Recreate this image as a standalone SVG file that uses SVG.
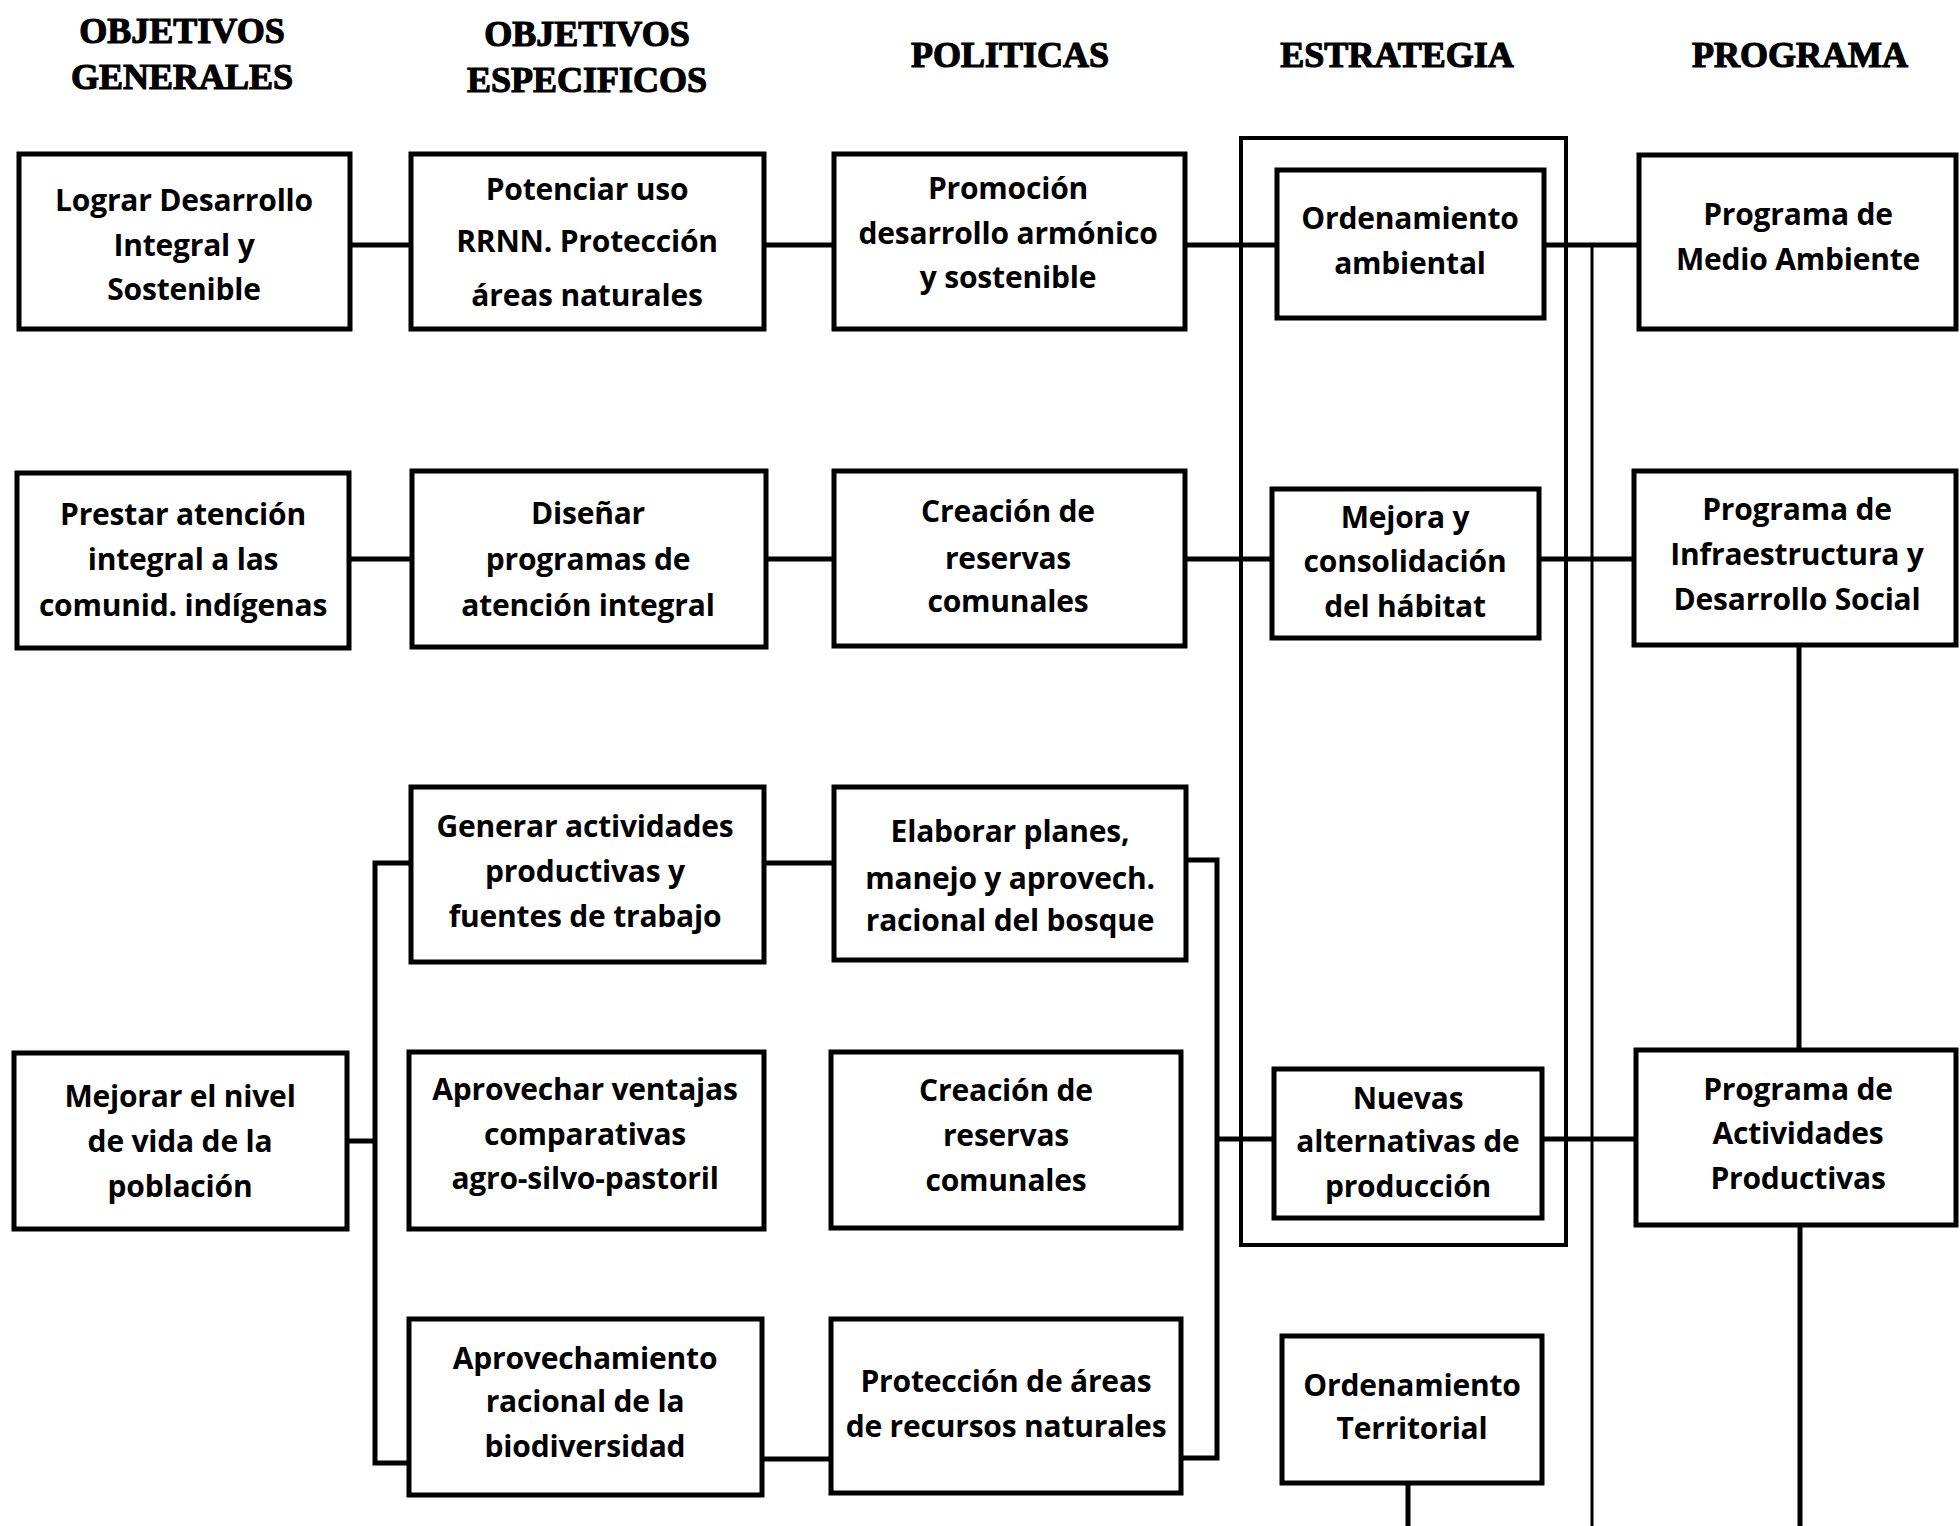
<svg xmlns="http://www.w3.org/2000/svg" width="1960" height="1526" viewBox="0 0 1960 1526">
<style>
.bg{fill:#fff}
.box{fill:#fff;stroke:#000;stroke-width:5}
.frame{fill:none;stroke:#000;stroke-width:4}
.t{font-family:"Open Sans",Lato,"Liberation Sans",sans-serif;font-weight:bold;font-size:30px;letter-spacing:-0.2px;fill:#000;text-anchor:middle}
.h{font-family:"Liberation Serif","DejaVu Serif",serif;font-weight:bold;font-size:36px;fill:#000;stroke:#000;stroke-width:1.2;text-anchor:middle}
.c{fill:none;stroke:#000;stroke-width:5}
.cs{fill:none;stroke:#000;stroke-width:3}
</style>
<rect class="bg" x="0" y="0" width="1960" height="1526"/>
<g id="headers">
<text class="h" x="182" y="43">OBJETIVOS</text>
<text class="h" x="182" y="89">GENERALES</text>
<text class="h" x="587" y="46">OBJETIVOS</text>
<text class="h" x="587" y="92">ESPECIFICOS</text>
<text class="h" x="1010" y="67">POLITICAS</text>
<text class="h" x="1397" y="67">ESTRATEGIA</text>
<text class="h" x="1800" y="67">PROGRAMA</text>
</g>
<g id="estrategia-frame"><rect class="frame" x="1241" y="138" width="325" height="1107"/></g>
<g id="connectors">
<path class="c" d="M350 245H411M764 245H834M1185 245H1277M1544 245H1639"/>
<path class="cs" d="M1592 245V1526"/>
<path class="c" d="M349 559H412M766 559H834M1185 559H1272M1539 559H1634"/>
<path class="c" d="M1799 645V1050M1800 1225V1526"/>
<path class="c" d="M347 1141H375M411 863H375V1463H409"/>
<path class="c" d="M764 863H834M762 1459H831"/>
<path class="c" d="M1186 860H1217V1458H1181M1217 1139H1274"/>
<path class="c" d="M1542 1139H1636"/>
<path class="c" d="M1408 1483V1526"/>
</g>
<g id="n-lograr"><rect class="box" x="19" y="154" width="331" height="175"/>
<text class="t" x="184" y="211">Lograr Desarrollo</text><text class="t" x="184" y="256">Integral y</text><text class="t" x="184" y="300">Sostenible</text></g>
<g id="n-potenciar"><rect class="box" x="411" y="154" width="353" height="175"/>
<text class="t" x="587" y="200">Potenciar uso</text><text class="t" x="587" y="252">RRNN. Protección</text><text class="t" x="587" y="306">áreas naturales</text></g>
<g id="n-promocion"><rect class="box" x="834" y="154" width="351" height="175"/>
<text class="t" x="1008" y="199">Promoción</text><text class="t" x="1008" y="244">desarrollo armónico</text><text class="t" x="1008" y="288">y sostenible</text></g>
<g id="n-ord-ambiental"><rect class="box" x="1277" y="170" width="267" height="148"/>
<text class="t" x="1410" y="229">Ordenamiento</text><text class="t" x="1410" y="274">ambiental</text></g>
<g id="n-medio-ambiente"><rect class="box" x="1639" y="155" width="317" height="174"/>
<text class="t" x="1798" y="225">Programa de</text><text class="t" x="1798" y="270">Medio Ambiente</text></g>

<g id="n-prestar"><rect class="box" x="17" y="473" width="332" height="175"/>
<text class="t" x="183" y="525">Prestar atención</text><text class="t" x="183" y="570">integral a las</text><text class="t" x="183" y="616">comunid. indígenas</text></g>
<g id="n-disenar"><rect class="box" x="412" y="471" width="354" height="176"/>
<text class="t" x="588" y="524">Diseñar</text><text class="t" x="588" y="570">programas  de</text><text class="t" x="588" y="616">atención integral</text></g>
<g id="n-creacion1"><rect class="box" x="834" y="471" width="351" height="175"/>
<text class="t" x="1008" y="522">Creación de</text><text class="t" x="1008" y="569">reservas</text><text class="t" x="1008" y="612">comunales</text></g>
<g id="n-mejora"><rect class="box" x="1272" y="489" width="267" height="149"/>
<text class="t" x="1405" y="528">Mejora y</text><text class="t" x="1405" y="572">consolidación</text><text class="t" x="1405" y="617">del hábitat</text></g>
<g id="n-infra"><rect class="box" x="1634" y="471" width="322" height="174"/>
<text class="t" x="1797" y="520">Programa de</text><text class="t" x="1797" y="565">Infraestructura y</text><text class="t" x="1797" y="610">Desarrollo Social</text></g>

<g id="n-mejorar"><rect class="box" x="14" y="1053" width="333" height="176"/>
<text class="t" x="180" y="1107">Mejorar el nivel</text><text class="t" x="180" y="1152">de vida de la</text><text class="t" x="180" y="1197">población</text></g>
<g id="n-generar"><rect class="box" x="411" y="787" width="353" height="175"/>
<text class="t" x="585" y="837">Generar actividades</text><text class="t" x="585" y="882">productivas y</text><text class="t" x="585" y="927">fuentes de trabajo</text></g>
<g id="n-aprovechar"><rect class="box" x="409" y="1052" width="355" height="177"/>
<text class="t" x="585" y="1100">Aprovechar ventajas</text><text class="t" x="585" y="1145">comparativas</text><text class="t" x="585" y="1189">agro-silvo-pastoril</text></g>
<g id="n-aprovechamiento"><rect class="box" x="409" y="1319" width="353" height="176"/>
<text class="t" x="585" y="1369">Aprovechamiento</text><text class="t" x="585" y="1412">racional de la</text><text class="t" x="585" y="1457">biodiversidad</text></g>
<g id="n-elaborar"><rect class="box" x="834" y="787" width="352" height="173"/>
<text class="t" x="1010" y="842">Elaborar planes,</text><text class="t" x="1010" y="889">manejo y aprovech.</text><text class="t" x="1010" y="931">racional del bosque</text></g>
<g id="n-creacion2"><rect class="box" x="831" y="1052" width="350" height="176"/>
<text class="t" x="1006" y="1101">Creación de</text><text class="t" x="1006" y="1146">reservas</text><text class="t" x="1006" y="1191">comunales</text></g>
<g id="n-proteccion"><rect class="box" x="831" y="1319" width="350" height="174"/>
<text class="t" x="1006" y="1392">Protección de áreas</text><text class="t" x="1006" y="1437">de recursos naturales</text></g>
<g id="n-nuevas"><rect class="box" x="1274" y="1069" width="268" height="149"/>
<text class="t" x="1408" y="1109">Nuevas</text><text class="t" x="1408" y="1152">alternativas de</text><text class="t" x="1408" y="1197">producción</text></g>
<g id="n-actividades"><rect class="box" x="1636" y="1050" width="320" height="175"/>
<text class="t" x="1798" y="1100">Programa de</text><text class="t" x="1798" y="1144">Actividades</text><text class="t" x="1798" y="1189">Productivas</text></g>
<g id="n-ord-territorial"><rect class="box" x="1282" y="1336" width="260" height="147"/>
<text class="t" x="1412" y="1396">Ordenamiento</text><text class="t" x="1412" y="1439">Territorial</text></g>
</svg>
